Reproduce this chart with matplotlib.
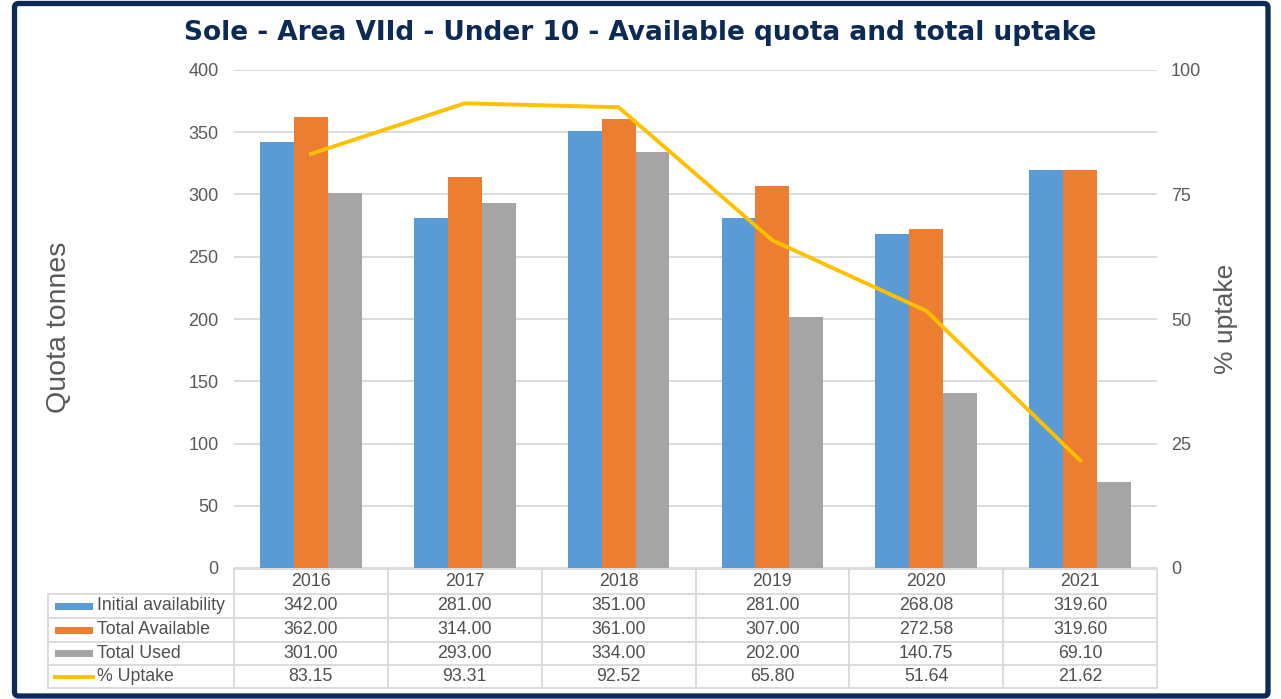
import matplotlib.pyplot as plt
from matplotlib.patches import Rectangle, FancyBboxPatch
from matplotlib.lines import Line2D

plt.rcParams["font.family"] = ["Liberation Sans", "DejaVu Sans"]

years = ["2016", "2017", "2018", "2019", "2020", "2021"]
initial = [342.00, 281.00, 351.00, 281.00, 268.08, 319.60]
available = [362.00, 314.00, 361.00, 307.00, 272.58, 319.60]
used = [301.00, 293.00, 334.00, 202.00, 140.75, 69.10]
uptake = [83.15, 93.31, 92.52, 65.80, 51.64, 21.62]

series = [
    ("Initial availability", initial, "#5B9BD5"),
    ("Total Available", available, "#ED7D31"),
    ("Total Used", used, "#A5A5A5"),
]
line_name = "% Uptake"
line_color = "#FFC000"

W, H = 1281, 699
fig = plt.figure(figsize=(W / 100, H / 100), dpi=100)

# plot area in pixels
px_left, px_right, px_top, px_bottom = 234, 1157, 70, 568
ax = fig.add_axes([px_left / W, 1 - px_bottom / H,
                   (px_right - px_left) / W, (px_bottom - px_top) / H])

n = len(years)
bar_w = 0.22
x = list(range(n))
for k, (name, vals, col) in enumerate(series):
    ax.bar([i + (k - 1) * bar_w for i in x], vals, width=bar_w, color=col, zorder=3)

ax.set_xlim(-0.5, n - 0.5)
ax.set_ylim(0, 400)
ax.set_yticks(range(0, 401, 50))
ax.set_xticks([])
ax.grid(axis="y", color="#D9D9D9", linewidth=1.3, zorder=0)
ax.tick_params(axis="y", length=0, labelsize=13, labelcolor="#595959", pad=11)
for s in ax.spines.values():
    s.set_visible(False)
ax.set_ylabel("Quota tonnes", fontsize=20.5, color="#595959")
ax.yaxis.set_label_coords((72 - px_left) / (px_right - px_left),
                          (px_bottom - 327) / (px_bottom - px_top))

ax2 = ax.twinx()
ax2.plot(x, uptake, color=line_color, linewidth=2.8, zorder=4)
ax2.set_ylim(0, 100)
ax2.set_yticks(range(0, 101, 25))
ax2.tick_params(axis="y", length=0, labelsize=13, labelcolor="#595959", pad=10)
for s in ax2.spines.values():
    s.set_visible(False)
ax2.set_ylabel("% uptake", fontsize=19, color="#595959", labelpad=9)

fig.text(0.5, 1 - 33 / H, "Sole - Area VIId - Under 10 - Available quota and total uptake",
         ha="center", va="center", fontsize=19, fontweight="bold",
         color="#0B2A55", family="DejaVu Sans")

# data table drawn in pixel coordinates
tab = fig.add_axes([0, 0, 1, 1])
tab.set_xlim(0, W)
tab.set_ylim(H, 0)
tab.axis("off")
tab.patch.set_alpha(0)

grid_c = "#D9D9D9"
label_left = 48
col_w = (px_right - px_left) / n
rows = [569, 594, 618, 642, 665, 688]
txt_c = "#505050"
tsize = 12.8

# horizontal lines
tab.plot([px_left, px_right], [rows[0], rows[0]], color=grid_c, lw=1.3)
for y in rows[1:]:
    tab.plot([label_left, px_right], [y, y], color=grid_c, lw=1.3)
# vertical lines
tab.plot([label_left, label_left], [rows[1], rows[-1]], color=grid_c, lw=1.3)
for i in range(n + 1):
    xe = px_left + i * col_w
    tab.plot([xe, xe], [rows[0], rows[-1]], color=grid_c, lw=1.3)

for i, yr in enumerate(years):
    tab.text(px_left + (i + 0.5) * col_w, (rows[0] + rows[1]) / 2, yr,
             ha="center", va="center", fontsize=tsize, color=txt_c)

table_rows = [(name, vals, col, "bar") for name, vals, col in series]
table_rows.append((line_name, uptake, line_color, "line"))
for r, (name, vals, col, kind) in enumerate(table_rows):
    yc = (rows[r + 1] + rows[r + 2]) / 2
    if kind == "bar":
        tab.add_patch(Rectangle((55, yc - 3.5), 38, 7, color=col, lw=0))
    else:
        tab.add_line(Line2D([55, 93], [yc, yc], color=col, lw=2.8))
    tab.text(97, yc, name, ha="left", va="center", fontsize=tsize, color=txt_c)
    for i, v in enumerate(vals):
        tab.text(px_left + (i + 0.5) * col_w, yc, f"{v:.2f}",
                 ha="center", va="center", fontsize=tsize, color=txt_c)

# outer frame
tab.add_patch(FancyBboxPatch((14.5, 3.5), 1268 - 14.5, 696 - 3.5,
                             boxstyle="round,pad=0,rounding_size=4",
                             fill=False, edgecolor="#0B2A55", lw=3.8))

fig.savefig("out.png", dpi=100)
